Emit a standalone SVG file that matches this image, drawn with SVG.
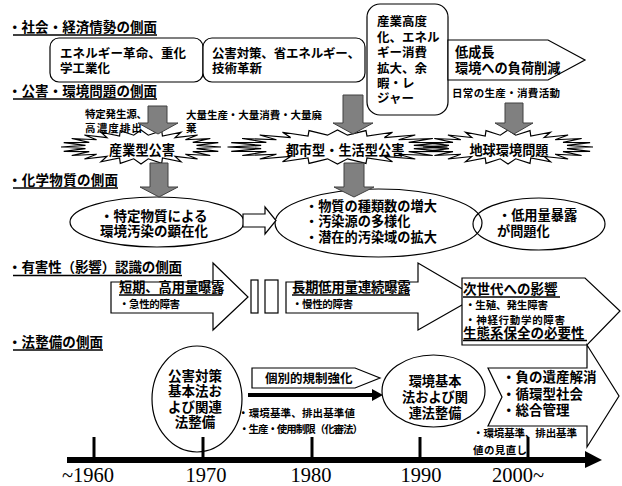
<svg xmlns="http://www.w3.org/2000/svg" width="622" height="486" viewBox="0 0 622 486">
<style>
text { font-family: "Noto Sans CJK JP", "Noto Sans", sans-serif; font-weight: bold; fill: #000; }
.h { font-size: 13.5px; }
.m { font-size: 12.5px; }
.l { font-size: 13.2px; }
.s { font-size: 10.5px; }
.c { text-anchor: middle; }
.y { font-family: "Liberation Serif", serif; font-weight: normal; font-size: 20.5px; }
.box { fill: #fff; stroke: #000; stroke-width: 1.2; }
.nf { fill: none; stroke: #000; stroke-width: 1.2; }
.ga { fill: #808080; stroke: #404040; stroke-width: 1; }
.ul { stroke: #000; stroke-width: 1.3; }
.ex { fill: none; stroke: #000; stroke-width: 1.2; vector-effect: non-scaling-stroke; }
.tk { stroke: #000; stroke-width: 3; }
</style>
<defs>
<polygon id="burst" class="ex" vector-effect="non-scaling-stroke" points="100,0 69.4,9.1 96.6,25.9 64.7,26.8 86.6,50 55.5,42.6 70.7,70.7 42.6,55.5 50,86.6 26.8,64.7 25.9,96.6 9.1,69.4 0,100 -9.1,69.4 -25.9,96.6 -26.8,64.7 -50,86.6 -42.6,55.5 -70.7,70.7 -55.5,42.6 -86.6,50 -64.7,26.8 -96.6,25.9 -69.4,9.1 -100,0 -69.4,-9.1 -96.6,-25.9 -64.7,-26.8 -86.6,-50 -55.5,-42.6 -70.7,-70.7 -42.6,-55.5 -50,-86.6 -26.8,-64.7 -25.9,-96.6 -9.1,-69.4 0,-100 9.1,-69.4 25.9,-96.6 26.8,-64.7 50,-86.6 42.6,-55.5 70.7,-70.7 55.5,-42.6 86.6,-50 64.7,-26.8 96.6,-25.9 69.4,-9.1"/>
</defs>

<!-- section headers -->
<g id="headers">
<text class="h" x="8" y="32" textLength="149">・社会・経済情勢の側面</text>
<line class="ul" x1="13" y1="35" x2="157" y2="35"/>
<text class="h" x="8" y="95.5" textLength="149">・公害・環境問題の側面</text>
<line class="ul" x1="13" y1="99" x2="157" y2="99"/>
<text class="h" x="8" y="184.5" textLength="110">・化学物質の側面</text>
<line class="ul" x1="13" y1="188" x2="118" y2="188"/>
<text class="h" x="8" y="272" textLength="174">・有害性（影響）認識の側面</text>
<line class="ul" x1="13" y1="275.5" x2="182" y2="275.5"/>
<text class="h" x="8" y="346.5" textLength="95">・法整備の側面</text>
<line class="ul" x1="13" y1="350" x2="103" y2="350"/>
</g>

<!-- row 1 -->
<g id="box-energy">
<rect class="box" x="50" y="38" width="153" height="44" rx="9"/>
<text class="m" x="60" y="58" textLength="126">エネルギー革命、重化</text>
<text class="m" x="60" y="72.5">学工業化</text>
</g>
<g id="box-measures">
<rect class="box" x="203" y="38" width="162" height="44" rx="9"/>
<text class="m" x="212" y="58" textLength="148">公害対策、省エネルギー、</text>
<text class="m" x="212" y="72.5">技術革新</text>
</g>
<g id="box-industry">
<rect class="box" x="367" y="4" width="81" height="111" rx="13"/>
<text class="m" x="377" y="26">産業高度</text>
<text class="m" x="377" y="41.5">化、エネル</text>
<text class="m" x="377" y="57">ギー消費</text>
<text class="m" x="377" y="72.5">拡大、余</text>
<text class="m" x="377" y="88">暇・レ</text>
<text class="m" x="377" y="103">ジャー</text>
</g>
<g id="arrow-lowgrowth">
<polygon class="box" points="448,40 548,40 585,60 548,80 448,80"/>
<text class="l" x="455" y="57">低成長</text>
<text class="l" x="455" y="73">環境への負荷削減</text>
</g>

<!-- row 2 -->
<g id="burst-industrial">
<use href="#burst" transform="translate(141,147) scale(0.8,0.17)"/>
<text class="l c" x="142" y="155">産業型公害</text>
</g>
<g id="burst-urban">
<use href="#burst" transform="translate(337.5,147) scale(1.1,0.17)"/>
<text class="l c" x="345" y="155">都市型・生活型公害</text>
</g>
<g id="burst-global">
<use href="#burst" transform="translate(508,147) scale(0.85,0.17)"/>
<text class="l c" x="509" y="155">地球環境問題</text>
</g>
<g id="labels-row2">
<text class="s" x="85" y="118" textLength="62">特定発生源、</text>
<text class="s" x="85" y="132" textLength="57">高濃度排出</text>
<text class="s" x="186" y="119" textLength="136">大量生産・大量消費・大量廃</text>
<text class="s" x="186" y="132">棄</text>
<text class="s" x="452" y="97" textLength="108">日常の生産・消費活動</text>
</g>

<!-- row 3 -->
<g id="ellipse-specific">
<ellipse class="box" cx="157" cy="222" rx="87" ry="25"/>
<text class="h" x="100" y="220.5">・特定物質による</text>
<text class="h" x="100" y="236">環境汚染の顕在化</text>
</g>
<g id="ellipse-diverse">
<ellipse class="box" cx="378.5" cy="223" rx="103.5" ry="34"/>
<text class="l" x="305" y="211">・物質の種類数の増大</text>
<text class="l" x="305" y="226">・汚染源の多様化</text>
<text class="l" x="305" y="242">・潜在的汚染域の拡大</text>
</g>
<g id="ellipse-lowdose">
<ellipse class="nf" cx="539" cy="224" rx="66" ry="26"/>
<text class="l" x="498" y="220">・低用量暴露</text>
<text class="l" x="497" y="235.5">が問題化</text>
</g>

<!-- row 4 -->
<g id="arrow-acute">
<polygon class="box" points="111,282 213,282 213,263 248,297 213,330 213,313 111,313"/>
<text class="l" x="119" y="292">短期、高用量曝露</text>
<line class="ul" x1="119" y1="295" x2="222" y2="295"/>
<text class="s" x="119" y="308" textLength="61">・急性的障害</text>
</g>
<g id="gap-bars">
<rect class="box" x="251" y="280" width="7" height="33"/>
<rect class="box" x="265" y="280" width="13" height="33"/>
</g>
<g id="arrow-chronic">
<polygon class="box" points="286,282 418,282 418,263 476,297 418,330 418,313 286,313"/>
<text class="l" x="292" y="292">長期低用量連続曝露</text>
<line class="ul" x1="292" y1="295" x2="410" y2="295"/>
<text class="s" x="292" y="308" textLength="61">・慢性的障害</text>
</g>
<g id="box-nextgen">
<polygon class="box" points="462,278 585,278 620,311 587,345 462,345"/>
<text class="h" x="463" y="294">次世代への影響</text>
<line class="ul" x1="463" y1="297" x2="560" y2="297"/>
<text class="s" x="465" y="308.5" textLength="83">・生殖、発生障害</text>
<text class="s" x="465" y="323.5" textLength="100">・神経行動学的障害</text>
<text class="h" x="463" y="337.5">生態系保全の必要性</text>
<line class="ul" x1="463" y1="340.5" x2="587" y2="340.5"/>
</g>

<!-- row 5 -->
<g id="arrow-future">
<polygon class="box" points="488,368 587,368 587,345 619,396 587,447 587,426 488,426 502,397"/>
<text class="h" x="502" y="382">・負の遺産解消</text>
<text class="h" x="502" y="398.5">・循環型社会</text>
<text class="h" x="502" y="415">・総合管理</text>
</g>
<g id="connectors">
<polygon class="ga" points="148,106 167,106 167,123 178,123 158,134 138,123 148,123"/>
<polygon class="ga" points="343,95 363,95 363,123 373,123 353,134 333,123 343,123"/>
<polygon class="ga" points="505,103 523,103 523,123 533,123 514,134 495,123 505,123"/>
<polygon class="ga" points="150,163 168,163 168,187 178,187 159,197 140,187 150,187"/>
<polygon class="ga" points="344,163 364,163 364,187 374,187 354,197 334,187 344,187"/>
<polygon class="box" points="243,214 265,214 265,207 276,220.5 265,234 265,227 243,227"/>
<line x1="248" y1="395" x2="373" y2="395" stroke="#000" stroke-width="4"/>
<polygon points="372,389 383,395 372,401" fill="#000"/>
</g>
<g id="circle-basic-law">
<ellipse class="box" cx="197" cy="399" rx="45" ry="53"/>
<text class="h c" x="195" y="380.5">公害対策</text>
<text class="h c" x="195" y="396">基本法お</text>
<text class="h c" x="195" y="411.5">よび関連</text>
<text class="h c" x="195" y="427">法整備</text>
</g>
<g id="arrow-regulation">
<polygon class="box" points="252,368 355,368 380,378 355,388 252,388"/>
<text class="m" x="265" y="382.5">個別的規制強化</text>
</g>
<g id="labels-row5">
<text class="s" x="238" y="417" textLength="117">・環境基準、排出基準値</text>
<text class="s" x="239" y="433" textLength="124">・生産・使用制限（化審法）</text>
</g>
<g id="ellipse-env-law">
<ellipse class="box" cx="433.5" cy="391" rx="51.5" ry="36"/>
<text class="l c" x="435" y="386">環境基本</text>
<text class="l c" x="435" y="402">法および関</text>
<text class="l c" x="435" y="417.5">連法整備</text>
</g>

<!-- timeline -->
<g id="timeline">
<line x1="67" y1="460" x2="588" y2="460" stroke="#000" stroke-width="6"/>
<polygon points="585,451 602,460 585,468" fill="#000"/>
<line class="tk" x1="94" y1="437" x2="94" y2="458"/>
<line class="tk" x1="203" y1="437" x2="203" y2="458"/>
<line class="tk" x1="312" y1="437" x2="312" y2="458"/>
<line class="tk" x1="420" y1="437" x2="420" y2="458"/>
<line class="tk" x1="528" y1="437" x2="528" y2="458"/>
<text class="s" x="473" y="437" textLength="104">・環境基準、排出基準</text>
<text class="s" x="473" y="453.5" textLength="54">値の見直し</text>
<text class="y" x="62" y="481.5">~1960</text>
<text class="y c" x="206" y="481.5">1970</text>
<text class="y c" x="311" y="481.5">1980</text>
<text class="y c" x="421" y="481.5">1990</text>
<text class="y" x="492" y="481.5">2000~</text>
</g>
</svg>
